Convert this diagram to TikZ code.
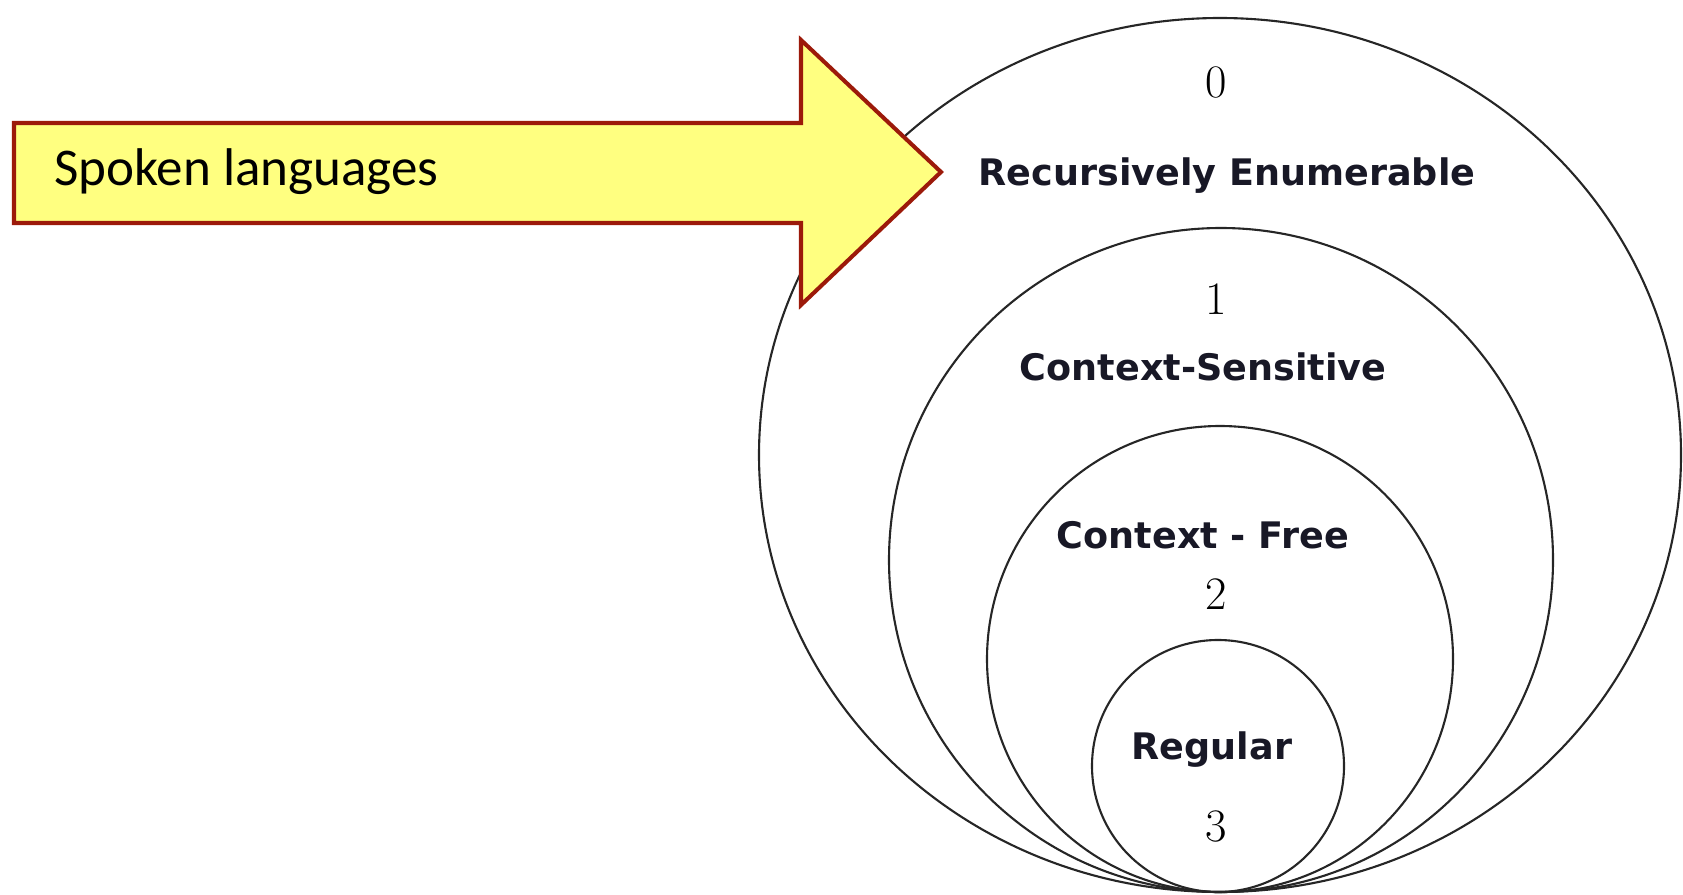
\documentclass[tikz,border=0pt]{standalone}
\usepackage{fontspec}
\newfontfamily\arrowfont{Carlito}
\newfontfamily\labelfont{DejaVu Sans}
\definecolor{labelcol}{RGB}{24,24,38}
\definecolor{arrowfill}{RGB}{255,255,128}
\definecolor{arrowedge}{RGB}{156,26,10}
\begin{document}
\begin{tikzpicture}[x=0.02cm,y=0.02cm,
  ring/.style={draw=black!85, line width=1.2pt},
  classlabel/.style={font=\labelfont\bfseries\fontsize{20.8}{24}\selectfont,
    text=labelcol, anchor=base, inner sep=0pt},
  typenum/.style={font=\fontsize{26.5}{30}\selectfont, anchor=base, inner sep=0pt},
  arrowline/.style={fill=arrowfill, draw=arrowedge, line width=2.3pt, line join=miter},
  arrowtext/.style={font=\arrowfont\fontsize{30.2}{34}\selectfont, anchor=base west, inner sep=0pt}]
\useasboundingbox (0,0) rectangle (1683,894);

% nested language classes, all touching at the bottom
\draw[ring] (1220,439) ellipse [x radius=461, y radius=437];
\draw[ring] (1221,334) circle [radius=332];
\draw[ring] (1220,235) circle [radius=233];
\draw[ring] (1218,128) circle [radius=126];

% class names and type numbers
\node[typenum] (n0) at (1216,796) {0};
\node[classlabel] (re) at (1227,708) {Recursively Enumerable};
\node[typenum] (n1) at (1216,580) {1};
\node[classlabel] (cs) at (1203,514) {Context-Sensitive};
\node[classlabel] (cf) at (1203,346) {Context - Free};
\node[typenum] (n2) at (1216,285) {2};
\node[classlabel] (rg) at (1212,135) {Regular};
\node[typenum] (n3) at (1216,53) {3};

% block arrow pointing at the outer class
\draw[arrowline] (14,771) -- (801,771) -- (801,854) -- (941,722)
  -- (801,589) -- (801,671) -- (14,671) -- cycle;
\node[arrowtext] (spoken) at (54,708) {Spoken languages};
\end{tikzpicture}
\end{document}
